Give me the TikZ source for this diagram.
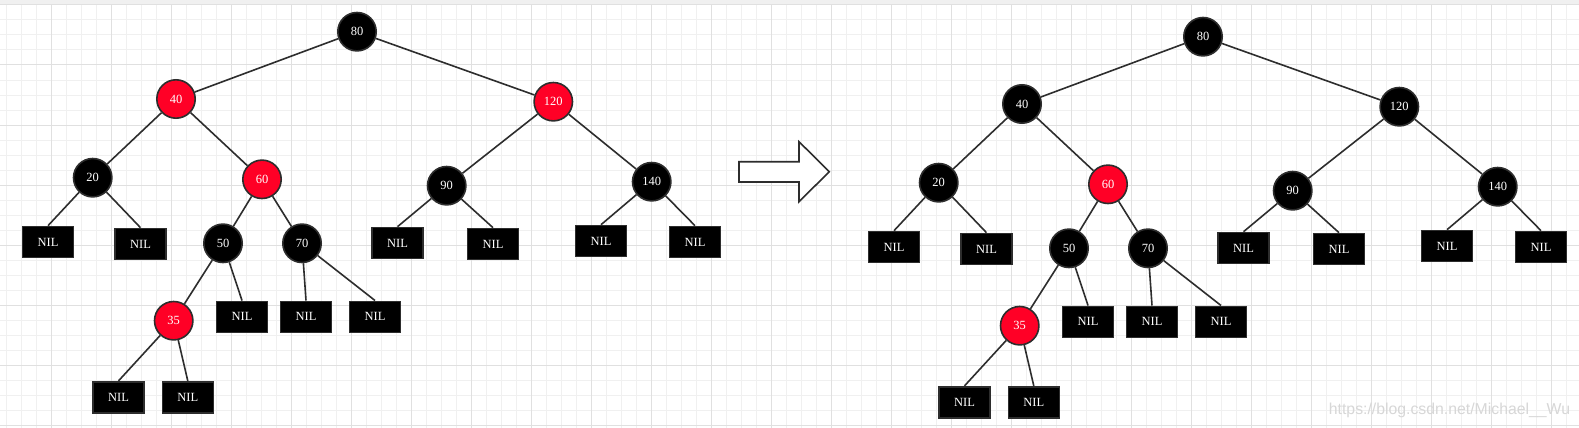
\documentclass[tikz,border=0pt]{standalone}
\usepackage{fontspec}
\setmainfont{Liberation Serif}
\newfontfamily\wmfont{Liberation Sans}
\definecolor{rbred}{RGB}{255,0,38}
\definecolor{edgegray}{RGB}{45,45,45}
\definecolor{gridminor}{RGB}{240,240,240}
\definecolor{gridmajor}{RGB}{224,224,224}
\definecolor{topbar}{RGB}{240,240,240}
\definecolor{wmgray}{RGB}{215,215,215}
\newcommand\rbtree[3]{%
  \node[rbnode,fill=black] (#1n80) at (357,31.7) {80};
  \node[rbnode,fill=#2] (#1n40) at (176,99) {40};
  \node[rbnode,fill=#3] (#1n120) at (553.3,101.7) {120};
  \node[rbnode,fill=black] (#1n20) at (92.7,177.7) {20};
  \node[rbnode,fill=rbred] (#1n60) at (262,179.3) {60};
  \node[rbnode,fill=black] (#1n90) at (446.7,185.7) {90};
  \node[rbnode,fill=black] (#1n140) at (651.7,181.7) {140};
  \node[rbnode,fill=black] (#1n50) at (223,243.3) {50};
  \node[rbnode,fill=black] (#1n70) at (302,243.3) {70};
  \node[rbnode,fill=rbred] (#1n35) at (173.7,320.7) {35};
  \node[nilbox] (#1a) at (48,242) {NIL};
  \node[nilbox] (#1b) at (140.5,244) {NIL};
  \node[nilbox] (#1c) at (242,316.8) {NIL};
  \node[nilbox] (#1d) at (306,316.8) {NIL};
  \node[nilbox] (#1e) at (375,316.8) {NIL};
  \node[nilbox] (#1f) at (118.5,397.2) {NIL};
  \node[nilbox] (#1g) at (187.8,397.2) {NIL};
  \node[nilbox] (#1h) at (397.5,243) {NIL};
  \node[nilbox] (#1i) at (493,244) {NIL};
  \node[nilbox] (#1j) at (601,241) {NIL};
  \node[nilbox] (#1k) at (695,242) {NIL};
  \begin{scope}[on background layer]
  \draw[edge] (#1n80) -- (#1n40);
  \draw[edge] (#1n80) -- (#1n120);
  \draw[edge] (#1n40) -- (#1n20);
  \draw[edge] (#1n40) -- (#1n60);
  \draw[edge] (#1n60) -- (#1n50);
  \draw[edge] (#1n60) -- (#1n70);
  \draw[edge] (#1n50) -- (#1n35);
  \draw[edge] (#1n120) -- (#1n90);
  \draw[edge] (#1n120) -- (#1n140);
  \draw[edge] (#1n20) -- (#1a.north);
  \draw[edge] (#1n20) -- (#1b.north);
  \draw[edge] (#1n50) -- (#1c.north);
  \draw[edge] (#1n70) -- (#1d.north);
  \draw[edge] (#1n70) -- (#1e.north);
  \draw[edge] (#1n35) -- (#1f.north);
  \draw[edge] (#1n35) -- (#1g.north);
  \draw[edge] (#1n90) -- (#1h.north);
  \draw[edge] (#1n90) -- (#1i.north);
  \draw[edge] (#1n140) -- (#1j.north);
  \draw[edge] (#1n140) -- (#1k.north);
  \end{scope}
}
\usetikzlibrary{backgrounds}
\begin{document}
\begin{tikzpicture}[x=1pt,y=-1pt,
  rbnode/.style={circle,minimum size=38.4pt,inner sep=0pt,draw=edgegray,line width=1.6pt,
    text=white,font=\fontsize{12.5}{14}\selectfont},
  nilbox/.style={rectangle,minimum width=51pt,minimum height=31pt,inner sep=0pt,fill=black,
    draw=edgegray,line width=1.6pt,text=white,font=\fontsize{12.5}{14}\selectfont},
  edge/.style={draw=edgegray,line width=1.6pt},
  minorline/.style={draw=gridminor,line width=1pt},
  majorline/.style={draw=gridmajor,line width=1pt},
  bigarrow/.style={draw=edgegray,fill=white,line width=1.6pt,line join=miter}]
\useasboundingbox (0,0) rectangle (1579,428);
\begin{scope}[on background layer]
\fill[white] (0,0) rectangle (1579,428);
\foreach \i in {0,...,105} {\draw[minorline] ({6.7+15*\i},0) -- ({6.7+15*\i},428);}
\foreach \j in {0,...,28} {\draw[minorline] (0,{5+15*\j}) -- (1579,{5+15*\j});}
\foreach \i in {0,...,26} {\draw[majorline] ({51.7+60*\i},0) -- ({51.7+60*\i},428);}
\foreach \j in {0,...,7} {\draw[majorline] (0,{5+60*\j}) -- (1579,{5+60*\j});}
\fill[topbar] (0,0) rectangle (1579,4.5);
\end{scope}
\rbtree{L}{rbred}{rbred}
\begin{scope}[shift={(846,5)}]
\rbtree{R}{black}{black}
\end{scope}
\draw[bigarrow] (739,161.7) -- (799,161.7) -- (799,141.7) -- (829.3,171.7) -- (799,201.7) -- (799,182) -- (739,182) -- cycle;
\node[text=wmgray,font=\wmfont\fontsize{15.8}{18}\selectfont,inner sep=0pt] (wm) at (1449.5,410) {https://blog.csdn.net/Michael\_\_Wu};
\end{tikzpicture}
\end{document}
